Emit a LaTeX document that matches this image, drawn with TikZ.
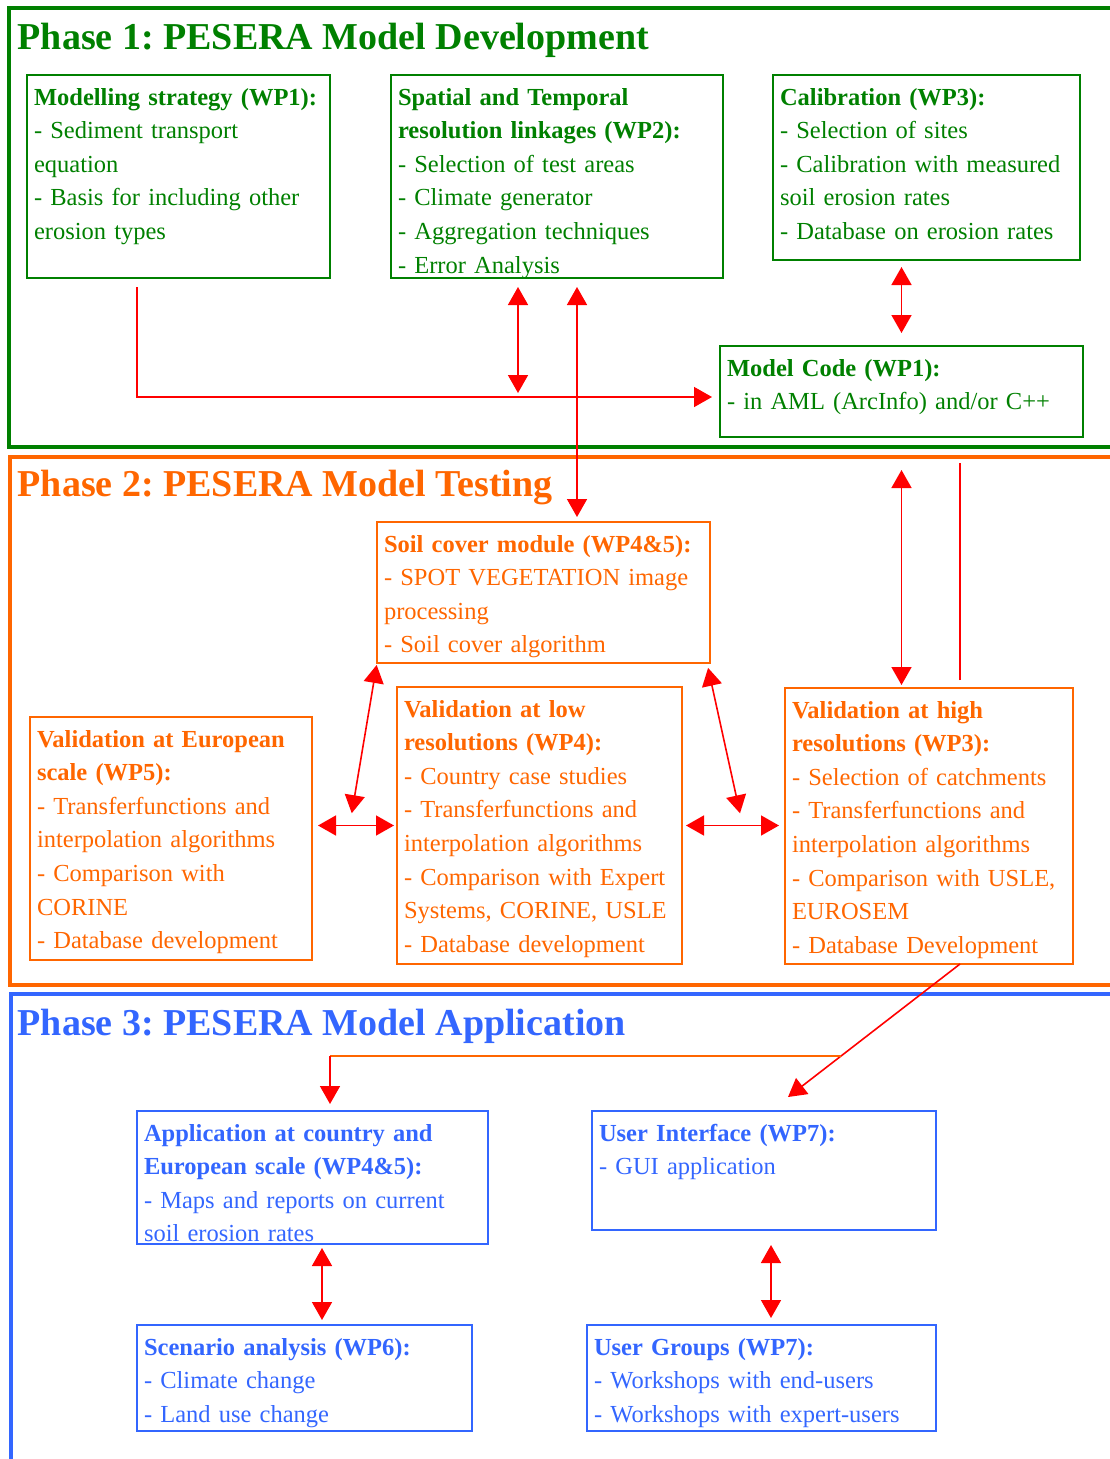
\documentclass[tikz,border=0pt]{standalone}
\usepackage{fontspec}
\setmainfont{Liberation Serif}
\usepackage{xcolor}
\usepackage{tikz}
\usetikzlibrary{
  arrows.meta,
  calc
}

\definecolor{pgreen}{RGB}{0,128,0}
\definecolor{porange}{RGB}{255,102,0}
\definecolor{pblue}{RGB}{51,102,255}
\definecolor{pred}{RGB}{255,0,0}

\frenchspacing

\begin{document}
\begin{tikzpicture}[
    x=1pt, y=-1pt,
    frame/.style={line width=3.5pt},
    title/.style={anchor=base west, inner sep=0pt,
                  font=\fontsize{38}{40}\selectfont\bfseries},
    wp/.style={draw, anchor=north west, outer sep=0pt, align=left,
               inner xsep=7pt, inner ysep=6pt, line width=1.6pt,
               text height=24pt, font=\fontsize{24.5}{33.6}\selectfont},
    p1/.style={wp, draw=pgreen, text=pgreen},
    p2/.style={wp, draw=porange, text=porange},
    p3/.style={wp, draw=pblue, text=pblue},
    arr/.style={-{Triangle[length=18pt,width=20pt]}, pred, line width=1.6pt},
    darr/.style={{Triangle[length=18pt,width=20pt]}-{Triangle[length=18pt,width=20pt]},
                 pred, line width=1.6pt},
    plain/.style={pred, line width=1.6pt},
    orline/.style={porange, line width=1.6pt},
  ]
  \useasboundingbox (0,0) rectangle (1109,1459);

  % ---- Phase frames ----
  \draw[frame, pgreen] (1140,8) -- (9,8) -- (9,447) -- (1140,447);
  \draw[frame, porange] (1140,457) -- (10,457) -- (10,985) -- (1140,985);
  \draw[frame, pblue] (1140,994) -- (11,994) -- (11,1480);

  \node[title, text=pgreen] (t1) at (17.5,49) {Phase 1: PESERA Model Development};
  \node[title, text=porange] (t2) at (17.5,496) {Phase 2: PESERA Model Testing};
  \node[title, text=pblue] (t3) at (17.5,1035) {Phase 3: PESERA Model Application};

  % ---- Phase 1 ----
  \node[p1, text width=289pt, text depth=167pt] (strat) at (27,75)
    {\textbf{Modelling strategy (WP1):}\\- Sediment transport\\equation\\
     - Basis for including other\\erosion types};
  \node[p1, text width=318pt, text depth=167pt] (link) at (391,75)
    {\textbf{Spatial and Temporal}\\\textbf{resolution linkages (WP2):}\\
     - Selection of test areas\\- Climate generator\\
     - Aggregation techniques\\- Error Analysis};
  \node[p1, text width=293pt, text depth=149pt] (calib) at (773,75)
    {\textbf{Calibration (WP3):}\\- Selection of sites\\
     - Calibration with measured\\soil erosion rates\\
     - Database on erosion rates};
  \node[p1, text width=349pt, text depth=55pt] (code) at (720,346)
    {\textbf{Model Code (WP1):}\\- in AML (ArcInfo) and/or C++};

  % ---- Phase 2 ----
  \node[p2, text width=319pt, text depth=105pt] (soil) at (377,522)
    {\textbf{Soil cover module (WP4\&5):}\\- SPOT VEGETATION image\\
     processing\\- Soil cover algorithm};
  \node[p2, text width=268pt, text depth=207pt] (euro) at (30,717)
    {\textbf{Validation at European}\\\textbf{scale (WP5):}\\
     - Transferfunctions and\\interpolation algorithms\\
     - Comparison with\\CORINE\\- Database development};
  \node[p2, text width=271pt, text depth=241pt] (low) at (397,687)
    {\textbf{Validation at low}\\\textbf{resolutions (WP4):}\\
     - Country case studies\\- Transferfunctions and\\
     interpolation algorithms\\- Comparison with Expert\\
     Systems, CORINE, USLE\\- Database development};
  \node[p2, text width=274pt, text depth=240pt] (high) at (785,688)
    {\textbf{Validation at high}\\\textbf{resolutions (WP3):}\\
     - Selection of catchments\\- Transferfunctions and\\
     interpolation algorithms\\- Comparison with USLE,\\
     EUROSEM\\- Database Development};

  % ---- Phase 3 ----
  \node[p3, text width=337pt, text depth=97pt] (appl) at (137,1111)
    {\textbf{Application at country and}\\\textbf{European scale (WP4\&5):}\\
     - Maps and reports on current\\soil erosion rates};
  \node[p3, text width=330pt, text depth=83pt] (gui) at (592,1111)
    {\textbf{User Interface (WP7):}\\- GUI application};
  \node[p3, text width=321pt, text depth=70pt] (scen) at (137,1325)
    {\textbf{Scenario analysis (WP6):}\\- Climate change\\- Land use change};
  \node[p3, text width=335pt, text depth=70pt] (users) at (587,1325)
    {\textbf{User Groups (WP7):}\\- Workshops with end-users\\
     - Workshops with expert-users};

  % ---- Free ends ----
  \coordinate (jn) at (518,397);
  \coordinate (stub) at (960,463);
  \coordinate (el) at (349.6,826);
  \coordinate (er) at (742.8,826);
  \coordinate (uitip) at (788,1097);
  \coordinate (split) at (841,1056);
  \coordinate (bend) at (330,1056);

  % ---- Arrows, phase 1 ----
  \draw[arr, shorten >=8pt]
    ([xshift=-41.5pt, yshift=-9pt]strat.south) |- ([yshift=-5.5pt]code.west);
  \draw[darr, shorten <=9pt, shorten >=4pt] ([xshift=-39pt]link.south) -- (jn);
  \draw[darr, shorten <=9pt, shorten >=5pt]
    ([xshift=20pt]link.south) -- ([xshift=33.5pt]soil.north);
  \draw[darr, shorten <=7pt, shorten >=13pt] (calib.south -| code.north) -- (code.north);
  \draw[darr, shorten <=33pt, shorten >=3pt] (code.south) -- (high.north -| code.south);
  \draw[plain] ([xshift=31pt, yshift=8pt]high.north) -- (stub);

  % ---- Arrows, phase 2 ----
  \draw[darr, shorten <=6pt, shorten >=3pt] (euro.east |- low.west) -- (low.west);
  \draw[darr, shorten <=4pt, shorten >=6pt] (low.east) -- (high.west |- low.east);
  \draw[darr, shorten <=2pt, shorten >=13pt] (soil.south west) -- (el);
  \draw[darr, shorten <=5pt, shorten >=13pt] ([xshift=-3pt]soil.south east) -- (er);

  % ---- Arrows, phase 3 ----
  \draw[arr] ([xshift=31pt]high.south) -- (uitip);
  \draw[orline] (split) -- (bend);
  \draw[arr, shorten >=7pt] (bend) -- ([xshift=17.5pt]appl.north);
  \draw[darr, shorten <=4pt, shorten >=5pt]
    ([xshift=9.5pt]appl.south) -- ([xshift=17.5pt]scen.north);
  \draw[darr, shorten <=15pt, shorten >=7pt]
    ([xshift=7pt]gui.south) -- ([xshift=9.5pt]users.north);

\end{tikzpicture}
\end{document}
